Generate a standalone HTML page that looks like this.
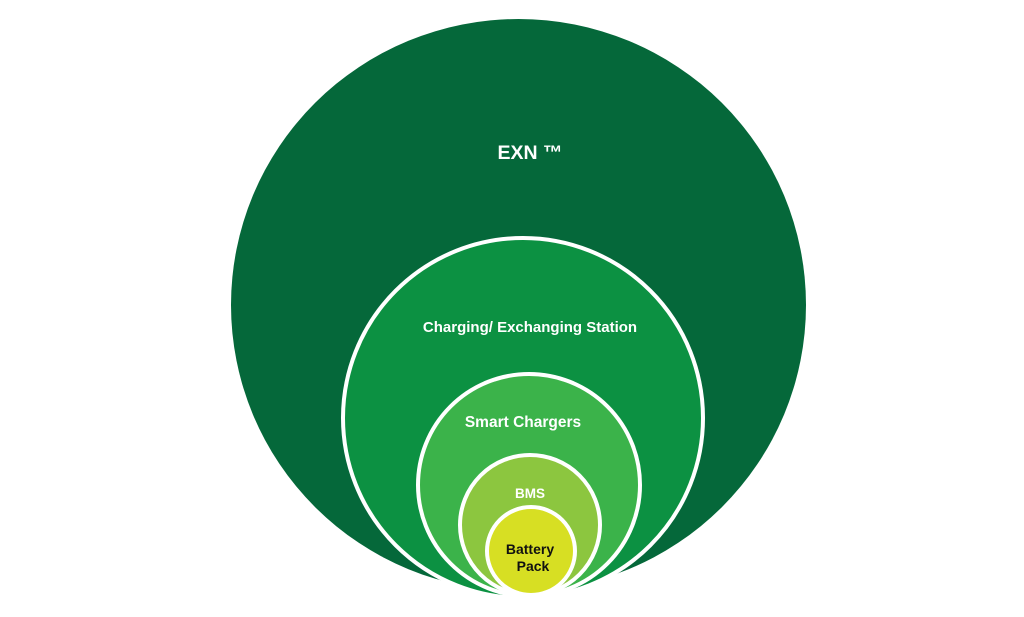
<!DOCTYPE html>
<html><head><style>
html,body{margin:0;padding:0;background:#fff;}
svg{display:block;}
text{font-family:"Liberation Sans",sans-serif;font-weight:bold;text-anchor:middle;}
</style></head><body>
<svg width="1024" height="617" viewBox="0 0 1024 617">
<rect width="1024" height="617" fill="#fff"/>
<ellipse cx="518.5" cy="305" rx="287.5" ry="286" fill="#05683a"/>
<circle cx="523" cy="418" r="180" fill="#0c9142" stroke="#fff" stroke-width="4"/>
<circle cx="529" cy="485" r="111" fill="#3bb34a" stroke="#fff" stroke-width="4"/>
<circle cx="530" cy="525" r="70" fill="#8cc63f" stroke="#fff" stroke-width="4"/>
<circle cx="531" cy="551" r="44" fill="#d7df23" stroke="#fff" stroke-width="4"/>
<rect x="0" y="595" width="1024" height="22" fill="#fff"/>
<text x="530" y="159" fill="#fff" font-size="19.5">EXN ™</text>
<text x="530" y="332" fill="#fff" font-size="15">Charging/ Exchanging Station</text>
<text x="523" y="427" fill="#fff" font-size="15.5">Smart Chargers</text>
<text x="530" y="498" fill="#fff" font-size="13.5">BMS</text>
<text x="530" y="554" fill="#111" font-size="14">Battery</text>
<text x="533" y="571" fill="#111" font-size="14">Pack</text>
</svg>
</body></html>
